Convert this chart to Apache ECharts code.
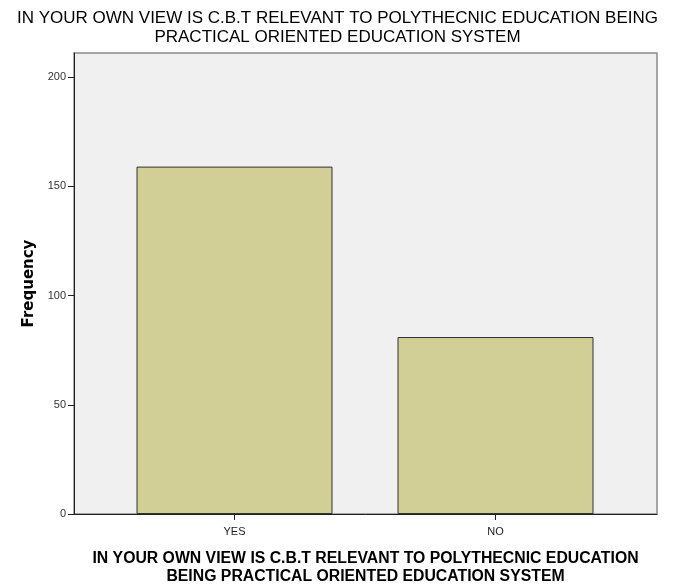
<!DOCTYPE html>
<html><head><meta charset="utf-8">
<script src="https://cdn.jsdelivr.net/npm/echarts@6/dist/echarts.min.js"></script>
<style>html,body{margin:0;padding:0;background:#fff}#c{width:675px;height:588px}</style>
</head><body><div id="c"></div>
<script>
const categories = ['YES', 'NO'];
const frequency = [159, 81];
const yTicks = [0, 50, 100, 150, 200];
const titleText = 'IN YOUR OWN VIEW IS C.B.T RELEVANT TO POLYTHECNIC EDUCATION BEING\nPRACTICAL ORIENTED EDUCATION SYSTEM';
const xName = 'IN YOUR OWN VIEW IS C.B.T RELEVANT TO POLYTHECNIC EDUCATION\nBEING PRACTICAL ORIENTED EDUCATION SYSTEM';
const yName = 'Frequency';

const YMAX = 211;
const font = 'Liberation Sans, Arial, sans-serif';
const chart = echarts.init(document.getElementById('c'));
chart.setOption({
  animation: false,
  title: {
    text: titleText, left: 'center', top: 4,
    textStyle: { fontFamily: font, fontSize: 17, fontWeight: 'normal', color: '#000', lineHeight: 19 }
  },
  grid: [
    { left: 74, right: 18, top: 53, bottom: 74, show: true, backgroundColor: '#f0f0f0', borderColor: '#8a8a8a', borderWidth: 1.5, outerBoundsMode: 'none', containLabel: false },
    { left: 104, right: 49, top: 53, bottom: 74, outerBoundsMode: 'none', containLabel: false }
  ],
  xAxis: [
    { gridIndex: 0, type: 'value', min: 0, max: 1, position: 'bottom', axisLine: { show: true, onZero: false, lineStyle: { color: '#222', width: 1 } },
      axisTick: { show: false }, axisLabel: { show: false }, splitLine: { show: false },
      name: xName, nameLocation: 'middle', nameGap: 36,
      nameTextStyle: { fontFamily: font, fontSize: 15.8, fontWeight: 'bold', color: '#000', lineHeight: 18 } },
    { gridIndex: 1, type: 'category', data: categories, position: 'bottom', axisLine: { show: false },
      axisTick: { show: true, alignWithLabel: true, length: 6, lineStyle: { color: '#222' } },
      axisLabel: { fontFamily: font, fontSize: 11, color: '#222', margin: 12 } }
  ],
  yAxis: [
    { gridIndex: 0, type: 'value', min: 0, max: YMAX,
      axisLine: { show: true, lineStyle: { color: '#222', width: 1 } },
      axisTick: { show: true, length: 6, lineStyle: { color: '#222' }, customValues: yTicks },
      axisLabel: { fontFamily: font, fontSize: 11, color: '#333', margin: 8, customValues: yTicks },
      splitLine: { show: false },
      name: yName, nameLocation: 'middle', nameGap: 35, nameRotate: 90,
      nameTextStyle: { fontFamily: 'DejaVu Sans, sans-serif', fontSize: 15, fontWeight: 'bold', color: '#000' } },
    { gridIndex: 1, type: 'value', min: 0, max: YMAX, show: false }
  ],
  series: [{
    type: 'bar', xAxisIndex: 1, yAxisIndex: 1, data: frequency, barWidth: 196,
    itemStyle: { color: '#d2cf96', borderColor: '#333', borderWidth: 1 }
  }]
});
</script></body></html>
